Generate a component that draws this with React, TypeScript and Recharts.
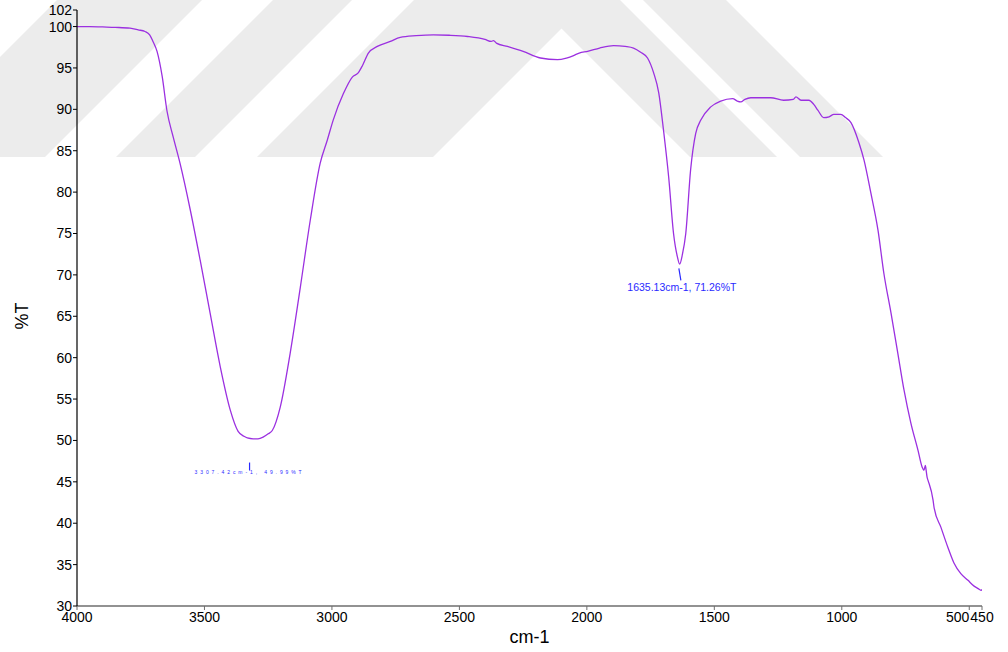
import { LineChart, Line, XAxis, YAxis, ReferenceDot } from "recharts";

// FTIR spectrum
const wavenumbers = [
  4000, 3950, 3900, 3850, 3792, 3760, 3733, 3715, 3702, 3686, 3666, 3647, 3623, 3596, 3556, 3517,
  3478, 3438, 3399, 3368, 3345, 3332, 3309, 3290, 3270, 3250, 3234, 3203, 3164, 3124, 3085, 3046,
  3018, 2995, 2955, 2920, 2897, 2880, 2857, 2822, 2771, 2732, 2670, 2602, 2540, 2468, 2400, 2375,
  2366, 2355, 2311, 2250, 2182, 2115, 2080, 2052, 2030, 1997, 1950, 1895, 1850, 1817, 1789, 1762,
  1738, 1718, 1699, 1679, 1660, 1645, 1636, 1625, 1612, 1593, 1573, 1553, 1514, 1475, 1428, 1410,
  1396, 1380, 1357, 1279, 1228, 1190, 1180, 1160, 1129, 1110, 1094, 1071, 1050, 1031, 1004, 985,
  964, 933, 913, 886, 858, 835, 807, 780, 756, 729, 701, 685, 678, 672, 670, 665, 662, 642, 638,
  611, 584, 560, 533, 505, 481, 465, 454, 450,
];
const transmittance = [
  100.0, 100.0, 99.95, 99.9, 99.8, 99.6, 99.4, 99.0, 98.2, 97.0, 94.0, 89.8, 86.7, 83.5, 77.9, 71.8,
  65.4, 58.9, 53.7, 51.1, 50.5, 50.3, 50.2, 50.2, 50.4, 50.8, 51.2, 54.0, 60.5, 68.5, 76.6, 83.5,
  86.3, 88.7, 91.9, 93.9, 94.4, 95.3, 96.8, 97.6, 98.2, 98.7, 98.9, 99.0, 98.95, 98.8, 98.45, 98.2,
  98.3, 98.0, 97.6, 97.0, 96.2, 96.0, 96.2, 96.5, 96.8, 97.0, 97.4, 97.7, 97.6, 97.4, 96.9, 96.2,
  94.4, 92.0, 87.4, 81.8, 75.0, 72.2, 71.3, 72.5, 75.0, 82.7, 87.1, 88.7, 90.3, 91.0, 91.3, 91.0,
  90.9, 91.2, 91.4, 91.4, 91.1, 91.2, 91.5, 91.1, 91.1, 90.6, 89.9, 89.0, 89.1, 89.4, 89.4, 89.0,
  88.4, 86.0, 83.9, 79.9, 75.4, 70.2, 65.4, 60.5, 56.1, 52.1, 48.8, 46.8, 46.4, 47.0, 46.6, 45.5,
  45.2, 42.8, 41.9, 39.5, 37.1, 35.2, 33.9, 33.1, 32.4, 32.1, 31.9, 32.0,
];

const xTicks = [4000, 3500, 3000, 2500, 2000, 1500, 1000, 500, 450];
const yTicks = [30, 35, 40, 45, 50, 55, 60, 65, 70, 75, 80, 85, 90, 95, 100, 102];

// peak labels
const peakX = [1635.13, 3307.42];
const peakY = [71.26, 49.99];
const peakText = ["1635.13cm-1, 71.26%T", "3307.42cm-1, 49.99%T"];

const data = wavenumbers.map((w, i) => ({ w, t: transmittance[i] }));

const FONT = "Arial, 'Liberation Sans', sans-serif";
const LINE = "#9b30e0";
const BLUE = "#2a2aff";

// faint thesis watermark stripes behind the plot
const stripes = [
  "-100,157 45,157 202,0 57,0",
  "116,157 195,157 352,0 273,0",
  "257,157 433,157 590,0 414,0",
  "690,157 777,157 620,0 533,0",
  "800,157 883,157 726,0 643,0",
];

function XTick({ x, y, payload }: any) {
  const v = payload.value;
  return (
    <text
      x={x}
      y={y}
      dy="0.71em"
      textAnchor={v === 500 ? "end" : "middle"}
      fontSize={14}
      fontFamily={FONT}
      fill="#000"
    >
      {v}
    </text>
  );
}

function PeakMark({ cx, cy, idx }: any) {
  if (idx === 0) {
    return (
      <g>
        <line x1={cx - 1} y1={cy + 4} x2={cx + 1} y2={cy + 16} stroke={BLUE} strokeWidth={1.2} />
        <text x={cx + 2} y={cy + 27} textAnchor="middle" fontSize={10.5} fontFamily={FONT} fill={BLUE}>
          {peakText[0]}
        </text>
      </g>
    );
  }
  return (
    <g>
      <line x1={cx - 4} y1={cy + 22} x2={cx - 4} y2={cy + 30} stroke={BLUE} strokeWidth={1.2} />
      <text
        x={cx - 4}
        y={cy + 33}
        textAnchor="middle"
        fontSize={5}
        letterSpacing={2.9}
        fontFamily={FONT}
        fill={BLUE}
      >
        {peakText[1]}
      </text>
    </g>
  );
}

export default function App() {
  return (
    <div style={{ position: "absolute", left: 0, top: 0, width: 1008, height: 652, background: "#fff" }}>
      <svg width={1008} height={652} style={{ position: "absolute", left: 0, top: 0 }}>
        {stripes.map((p, i) => (
          <polygon key={i} points={p} fill="#ececec" />
        ))}
      </svg>
      <div style={{ position: "absolute", left: 0, top: 0 }}>
        <LineChart width={1008} height={652} data={data} margin={{ top: 10, right: 26, bottom: 0, left: 0 }}>
          <XAxis
            dataKey="w"
            type="number"
            domain={[450, 4000]}
            reversed
            ticks={xTicks}
            interval={0}
            height={46}
            tickSize={4}
            tickMargin={2}
            tick={<XTick />}
            axisLine={{ stroke: "#6e6e6e", strokeWidth: 1.5 }}
            tickLine={{ stroke: "#6e6e6e" }}
            allowDataOverflow
            label={{
              content: (p: any) => (
                <text
                  x={p.viewBox.x + p.viewBox.width / 2}
                  y={p.viewBox.y + 37}
                  textAnchor="middle"
                  fontSize={18}
                  fontFamily={FONT}
                  fill="#000"
                >
                  cm-1
                </text>
              ),
            }}
          />
          <YAxis
            type="number"
            domain={[30, 102]}
            ticks={yTicks}
            interval={0}
            width={77}
            tickSize={4}
            tickMargin={1}
            tick={{ fontSize: 14, fontFamily: FONT, fill: "#000" }}
            axisLine={{ stroke: "#000", strokeWidth: 1.2 }}
            tickLine={{ stroke: "#000" }}
            allowDataOverflow
            label={{
              content: (p: any) => {
                const cx = p.viewBox.x + 22;
                const cy = p.viewBox.y + p.viewBox.height / 2 + 8;
                return (
                  <text
                    x={cx}
                    y={cy}
                    transform={`rotate(-90 ${cx} ${cy})`}
                    textAnchor="middle"
                    dominantBaseline="central"
                    fontSize={18}
                    fontFamily={FONT}
                    fill="#000"
                  >
                    %T
                  </text>
                );
              },
            }}
          />
          <Line
            type="monotone"
            dataKey="t"
            stroke={LINE}
            strokeWidth={1.3}
            dot={false}
            isAnimationActive={false}
          />
          {peakX.map((px, i) => (
            <ReferenceDot
              key={i}
              x={px}
              y={peakY[i]}
              r={0}
              shape={(p: any) => <PeakMark {...p} idx={i} />}
            />
          ))}
        </LineChart>
      </div>
    </div>
  );
}
